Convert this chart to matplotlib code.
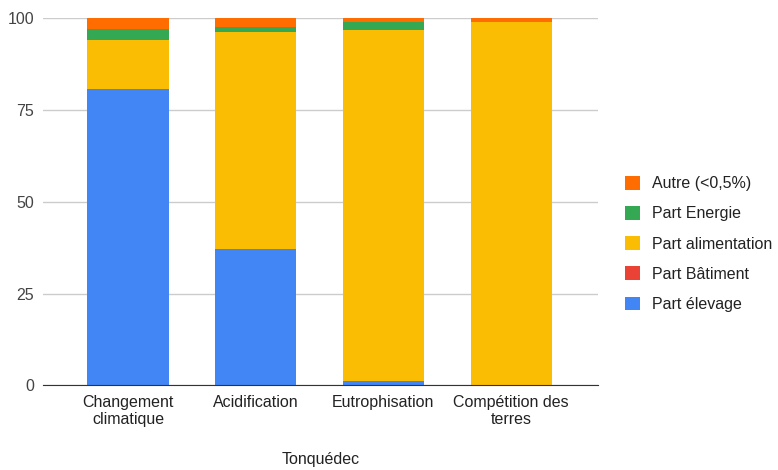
import numpy as np
import matplotlib.pyplot as plt
from matplotlib.patches import Patch

plt.rcParams['font.family'] = ['Liberation Sans', 'DejaVu Sans']

categories = ['Changement\nclimatique', 'Acidification', 'Eutrophisation', 'Compétition des\nterres']

# shares per impact category, stacked bottom to top
elevage = [80.7, 37.1, 1.2, 0.0]
batiment = [0.0, 0.0, 0.0, 0.0]
alimentation = [13.3, 59.0, 95.5, 98.9]
energie = [3.0, 1.5, 2.3, 0.0]
autre = [3.0, 2.4, 1.0, 1.1]

series = [
    ('Part élevage', elevage, '#4285F4'),
    ('Part Bâtiment', batiment, '#EA4335'),
    ('Part alimentation', alimentation, '#FBBC04'),
    ('Part Energie', energie, '#34A853'),
    ('Autre (<0,5%)', autre, '#FF6D01'),
]

FS = 11.5

fig = plt.figure(figsize=(7.78, 4.70), dpi=100)
ax = fig.add_axes([0.0553, 0.18, 0.7133, 0.7817])

x = np.arange(len(categories))
bottom = np.zeros(len(categories))
for name, vals, color in series:
    vals = np.array(vals)
    ax.bar(x, vals, width=0.635, bottom=bottom, color=color, label=name, zorder=2)
    bottom += vals

ax.set_xlim(-0.665, 3.68)
ax.set_ylim(0, 100)
ax.set_yticks([0, 25, 50, 75, 100])
ax.set_xticks(x)
ax.set_xticklabels(categories, fontsize=FS, color='#222222', linespacing=1.13)
ax.tick_params(axis='y', labelsize=FS, labelcolor='#444444', length=0, pad=6.5)
ax.tick_params(axis='x', length=0, pad=7)
ax.grid(axis='y', color='#cccccc', linewidth=1, zorder=0)
for side in ['top', 'right', 'left']:
    ax.spines[side].set_visible(False)
ax.spines['bottom'].set_color('#333333')
ax.spines['bottom'].set_zorder(3)
ax.set_xlabel('Tonquédec', fontsize=FS, color='#222222', labelpad=18.5)

handles = [Patch(facecolor=c, label=n) for n, _, c in reversed(series)]
fig.legend(handles=handles, loc='center left', bbox_to_anchor=(0.785, 0.481),
           frameon=False, fontsize=FS, handlelength=0.94, handleheight=0.94,
           handletextpad=0.75, labelspacing=0.93, labelcolor='#222222')

fig.savefig('out.png', dpi=100)
